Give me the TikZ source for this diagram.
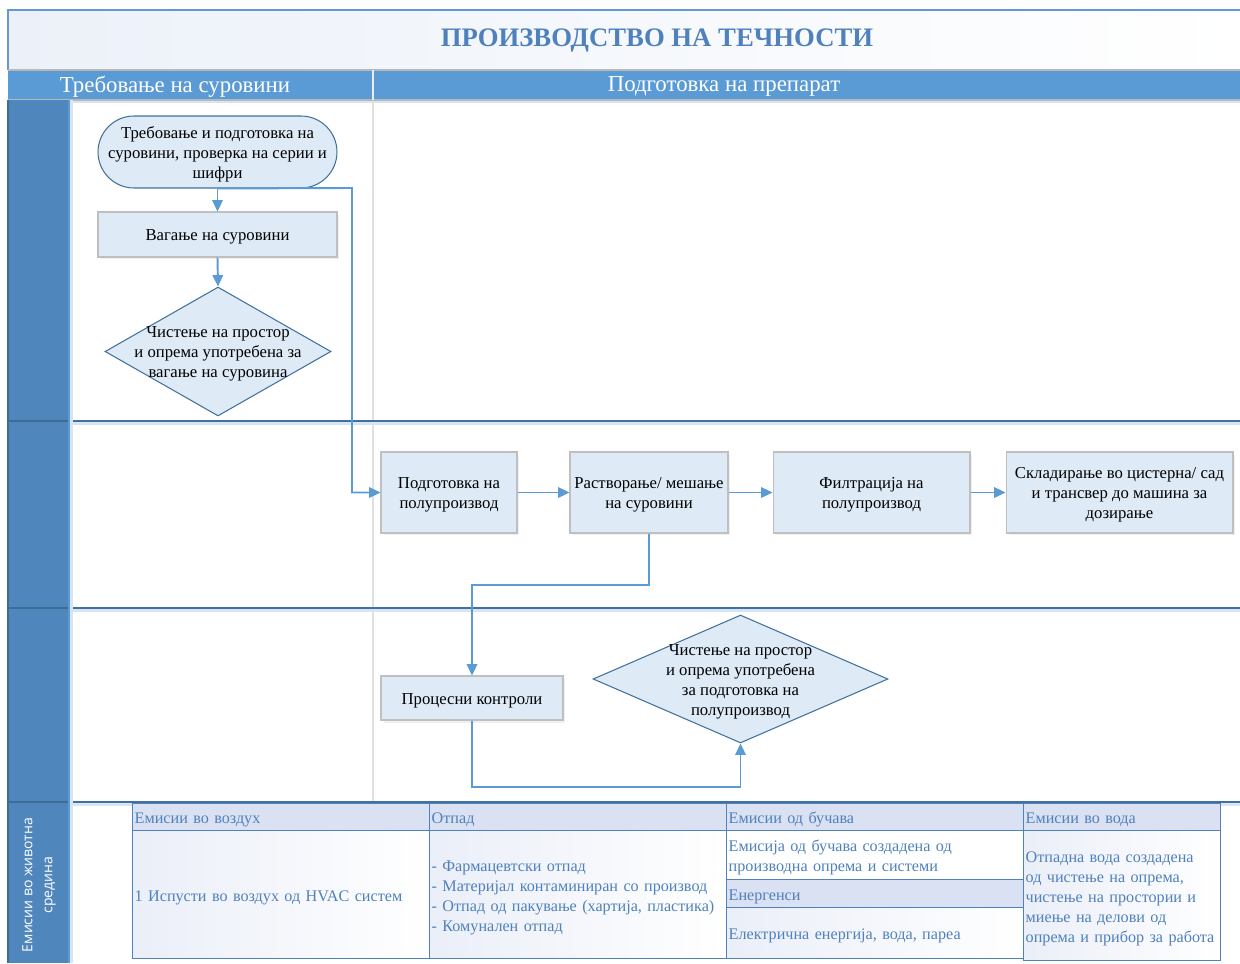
\documentclass[tikz,border=0pt]{standalone}
\usepackage{fontspec}
\setmainfont{Liberation Serif}
\newfontfamily\lanefont{Open Sans}
\usetikzlibrary{arrows.meta,shadows,shapes.geometric}

\definecolor{laneblue}{RGB}{79,134,188}
\definecolor{lanedark}{RGB}{62,108,152}
\definecolor{headblue}{RGB}{91,155,213}
\definecolor{lineblue}{RGB}{65,113,156}
\definecolor{glowblue}{RGB}{214,228,243}
\definecolor{arrowblue}{RGB}{91,155,213}
\definecolor{boxfill}{RGB}{222,234,246}
\definecolor{boxline}{RGB}{191,191,191}
\definecolor{tabtext}{RGB}{79,129,189}
\definecolor{tabhead}{RGB}{218,225,242}
\definecolor{titleblue}{RGB}{79,129,189}
\definecolor{titleline}{RGB}{100,152,208}
\definecolor{titleshade}{RGB}{236,241,249}

% centred text block that does not enlarge its shape
\newcommand{\ctext}[1]{\makebox[0pt]{\smash{\raisebox{-3.6pt}{\begin{tabular}{@{}c@{}}#1\end{tabular}}}}}
% left-aligned text block for table cells
\newcommand{\ltext}[1]{\smash{\raisebox{-3.6pt}{\begin{tabular}{@{}l@{}}#1\end{tabular}}}}

\begin{document}
\begin{tikzpicture}[x=0.02cm,y=-0.02cm,
  nodefont/.style={font=\fontsize{9.5}{11.4}\selectfont},
  procbox/.style={nodefont, draw=boxline, fill=boxfill, line width=0.6pt, inner sep=0pt,
    drop shadow={opacity=0.12, shadow xshift=0.05cm, shadow yshift=-0.05cm}},
  termbox/.style={nodefont, draw=lineblue, fill=boxfill, line width=0.6pt, inner sep=0pt,
    rounded corners=0.72cm},
  decision/.style={nodefont, diamond, draw=lineblue, fill=boxfill, line width=0.6pt, inner sep=0pt},
  conn/.style={draw=arrowblue, line width=1.1pt, -{Triangle[length=6.5pt,width=6pt]}},
  lanerule/.style={draw=lineblue, line width=0.8pt},
  laneglow/.style={draw=glowblue, line width=2pt},
  headtext/.style={text=white, font=\fontsize{13}{15}\selectfont},
  tabcell/.style={draw=tabtext, line width=0.8pt, text=tabtext, font=\fontsize{9.2}{11.4}\selectfont,
    align=left, anchor=north west, inner xsep=0.04cm, inner ysep=0pt},
  tabheadcell/.style={tabcell, fill=tabhead},
  tabbodycell/.style={tabcell, left color=tabhead!55!white, right color=white}
]
\useasboundingbox (0,0) rectangle (1240,963);

% ---- title band ----
\shade[left color=titleshade, right color=white] (8,10) rectangle (1240,70);
\draw[titleline, line width=0.8pt] (1240,10) -- (8,10) -- (8,70);
\node[font=\bfseries\fontsize{15.2}{18}\selectfont, text=titleblue] (title) at (657,41) {ПРОИЗВОДСТВО НА ТЕЧНОСТИ};

% ---- phase header ----
\fill[headblue] (8,70) rectangle (1240,100);
\draw[black!28, line width=0.8pt] (8,70) -- (1240,70);
\draw[black!28, line width=0.8pt] (8,100) -- (1240,100);
\draw[glowblue, line width=1.5pt] (69,102) -- (1240,102);
\draw[white!85!gray, line width=0.6pt] (373,70) -- (373,100);
\node[headtext] (phase1) at (175,86.5) {Требовање на суровини};
\node[headtext] (phase2) at (724,86.5) {Подготовка на препарат};

% ---- swimlanes ----
\fill[laneblue] (8,100) rectangle (69,963);
\draw[black!12, line width=0.6pt] (373,102) -- (373,802);
\foreach \ly in {421,608,802} {
  \draw[laneglow] (70,\ly+2.5) -- (1240,\ly+2.5);
  \draw[lanerule] (69,\ly) -- (1240,\ly);
  \draw[lanedark, line width=0.8pt] (8,\ly) -- (69,\ly);
}
\draw[lanedark, line width=0.6pt] (8,100) -- (8,963);
\draw[arrowblue, line width=0.8pt] (69,100) -- (69,963);
\draw[glowblue, line width=1.5pt] (71.5,100) -- (71.5,963);
\node[rotate=90, text=white, font=\lanefont\fontsize{8}{11.4}\selectfont, align=center] (envlane) at (39,885) {Емисии во животна\\средина};

% ---- raw material requisition ----
\node[termbox, minimum width=4.78cm, minimum height=1.44cm] (req) at (217.5,152)
  {\ctext{Требовање и подготовка на\\суровини, проверка на серии и\\шифри}};
\node[procbox, minimum width=4.78cm, minimum height=0.9cm] (weigh) at (217.5,234.5) {\ctext{Вагање на суровини}};
\node[decision, minimum width=4.52cm, minimum height=2.58cm] (clean1) at (218,351.5)
  {\ctext{Чистење на простор\\и опрема употребена за\\вагање на суровина}};

% ---- preparation of the product ----
\node[procbox, minimum width=2.72cm, minimum height=1.62cm] (semi) at (449,492.5) {\ctext{Подготовка на\\полупроизвод}};
\node[procbox, minimum width=3.16cm, minimum height=1.62cm] (mix) at (649,492.5) {\ctext{Растворање/ мешање\\на суровини}};
\node[procbox, minimum width=3.94cm, minimum height=1.62cm] (filt) at (871.5,492.5) {\ctext{Филтрација на\\полупроизвод}};
\node[procbox, minimum width=4.54cm, minimum height=1.62cm] (store) at (1119.5,492.5) {\ctext{Складирање во цистерна/ сад\\и трансвер до машина за\\дозирање}};
\node[procbox, minimum width=3.64cm, minimum height=0.88cm] (ctrl) at (472,698) {\ctext{Процесни контроли}};
\node[decision, minimum width=5.9cm, minimum height=2.56cm] (clean2) at (740.5,679)
  {\ctext{Чистење на простор\\и опрема употребена\\за подготовка на\\полупроизвод}};

% ---- connectors ----
\coordinate (bendA) at (352,188);
\coordinate (bendB) at (472,585);
\coordinate (bendC) at (472,787);
\draw[conn] (req.south) -- (weigh.north);
\draw[conn] (weigh.south) -- (clean1.north);
\draw[conn] (req.south) -- (bendA) |- (semi.west);
\draw[conn] (semi.east) -- (mix.west);
\draw[conn] (mix.east) -- (filt.west);
\draw[conn] (filt.east) -- (store.west);
\draw[conn] (mix.south) |- (bendB) -- (ctrl.north);
\draw[conn] (ctrl.south) -- (bendC) -| (clean2.south);

% ---- environmental emissions table ----
\node[tabheadcell, text width=5.86cm, minimum height=0.54cm] (airH) at (132,803) {\ltext{Емисии во воздух}};
\node[tabbodycell, text width=5.86cm, minimum height=2.56cm] (airB) at (132,830) {\ltext{1 Испусти во воздух од HVAC систем}};
\node[tabheadcell, text width=5.86cm, minimum height=0.54cm] (wasteH) at (429,803) {\ltext{Отпад}};
\node[tabbodycell, text width=5.86cm, minimum height=2.56cm] (wasteB) at (429,830)
  {\ltext{- Фармацевтски отпад\\- Материјал контаминиран со производ\\- Отпад од пакување (хартија, пластика)\\- Комунален отпад}};
\node[tabheadcell, text width=5.86cm, minimum height=0.54cm] (noiseH) at (726,803) {\ltext{Емисии од бучава}};
\node[tabcell, fill=white, text width=5.86cm, minimum height=0.98cm] (noiseB) at (726,830)
  {\ltext{Емисија од бучава создадена од\\производна опрема и системи}};
\node[tabheadcell, text width=5.86cm, minimum height=0.56cm] (enerH) at (726,879) {\ltext{Енергенси}};
\node[tabbodycell, text width=5.86cm, minimum height=1.02cm] (enerB) at (726,907) {\ltext{Електрична енергија, вода, пареа}};
\node[tabheadcell, text width=3.86cm, minimum height=0.54cm] (waterH) at (1023,803) {\ltext{Емисии во вода}};
\node[tabbodycell, text width=3.86cm, minimum height=2.6cm] (waterB) at (1023,830)
  {\ltext{Отпадна вода создадена\\од чистење на опрема,\\чистење на простории и\\миење на делови од\\опрема и прибор за работа}};
\end{tikzpicture}
\end{document}
